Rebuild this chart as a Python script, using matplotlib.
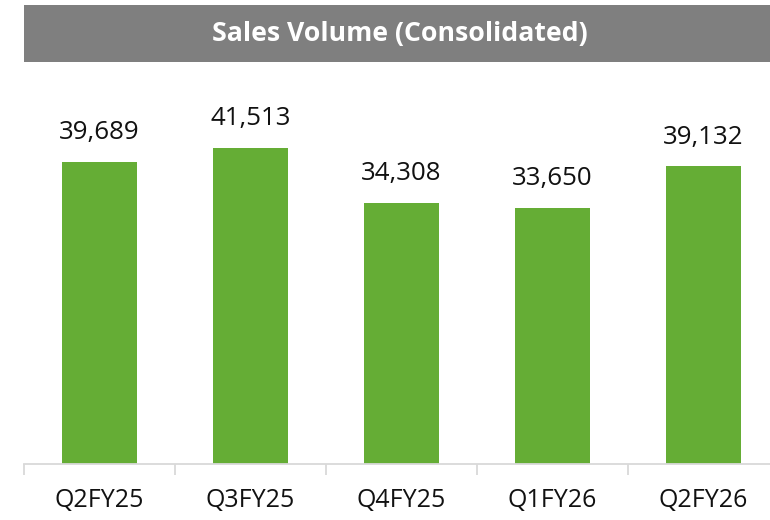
import matplotlib.pyplot as plt
from matplotlib.patches import Rectangle
from matplotlib.ticker import FixedLocator, NullFormatter

quarters = ["Q2FY25", "Q3FY25", "Q4FY25", "Q1FY26", "Q2FY26"]
volumes = [39689, 41513, 34308, 33650, 39132]
title = "Sales Volume (Consolidated)"

W, H = 770, 520
fig = plt.figure(figsize=(W / 100, H / 100), dpi=100)
font = "Open Sans"

# title banner
fig.patches.append(Rectangle((24 / W, 1 - 62 / H), (W - 24) / W, 57 / H,
                             transform=fig.transFigure, facecolor="#7f7f7f",
                             edgecolor="none", zorder=0))
fig.text(400 / W, 1 - 34 / H, title, ha="center", va="center", color="white",
         fontsize=19.2, fontweight="bold", family=font)

ax_left, ax_bottom, ax_top = 24, 464, 70
ax = fig.add_axes([ax_left / W, 1 - ax_bottom / H, (W - ax_left) / W,
                   (ax_bottom - ax_top) / H])
cat_px = 151
ax.set_xlim(-0.5, -0.5 + (W - ax_left) / cat_px)
ax.set_ylim(0, 51772)

x = range(len(quarters))
bars = ax.bar(x, volumes, width=0.5, color="#65ad35", zorder=2)
for xi, v in zip(x, volumes):
    ax.annotate(f"{v:,}", (xi, v), xytext=(0, 12), textcoords="offset points",
                ha="center", va="bottom", fontsize=18.6, family=font, color="#111111")

for s in ["top", "right", "left"]:
    ax.spines[s].set_visible(False)
ax.spines["bottom"].set_color("#d9d9d9")
ax.spines["bottom"].set_linewidth(1.3)
ax.set_yticks([])

ax.xaxis.set_major_locator(FixedLocator([i - 0.5 for i in range(len(quarters) + 1)]))
ax.xaxis.set_major_formatter(NullFormatter())
ax.xaxis.set_minor_locator(FixedLocator(list(x)))
ax.set_xticklabels(quarters, minor=True, fontsize=18, family=font, color="#111111")
ax.tick_params(axis="x", which="major", length=8, color="#d9d9d9", width=1.3)
ax.tick_params(axis="x", which="minor", length=0, pad=17)

fig.savefig("out.png", dpi=100)
